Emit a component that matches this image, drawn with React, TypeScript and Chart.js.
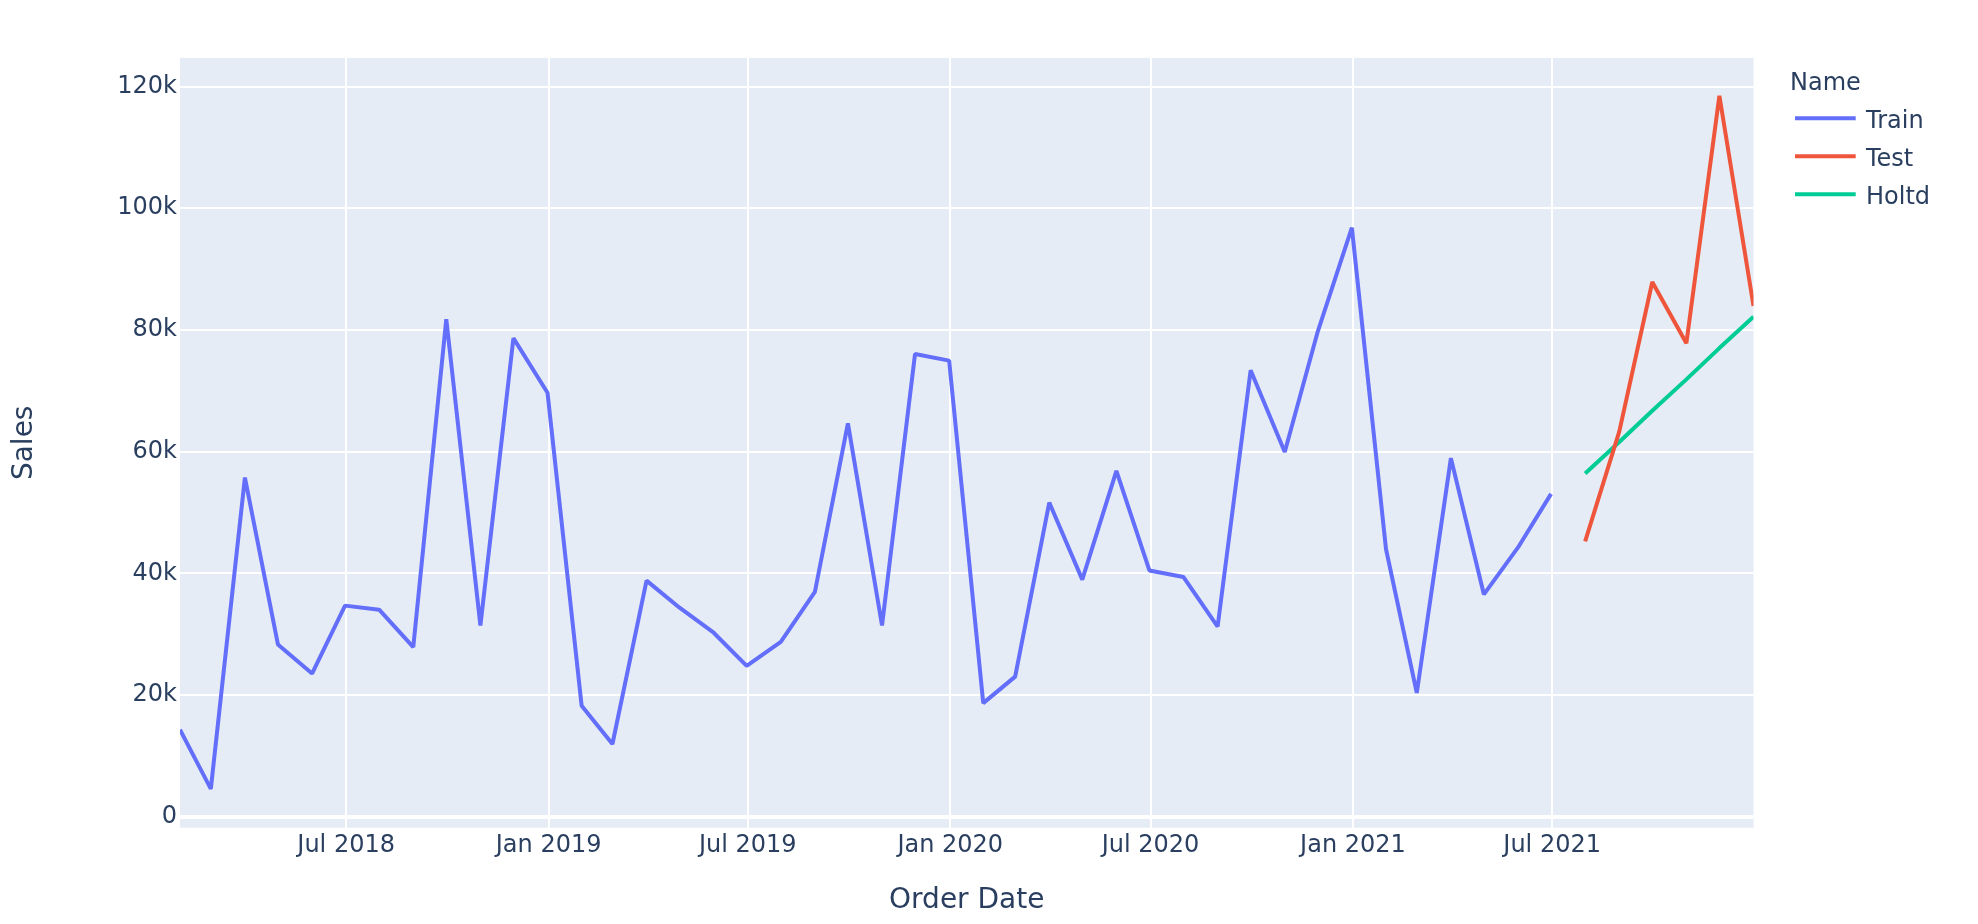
import React, { useEffect, useRef } from "react";
import { Chart, registerables } from "chart.js";

Chart.register(...registerables);

// ---------- data ----------
const trainDates = [
  "2018-01-31", "2018-02-28", "2018-03-31", "2018-04-30", "2018-05-31", "2018-06-30",
  "2018-07-31", "2018-08-31", "2018-09-30", "2018-10-31", "2018-11-30", "2018-12-31",
  "2019-01-31", "2019-02-28", "2019-03-31", "2019-04-30", "2019-05-31", "2019-06-30",
  "2019-07-31", "2019-08-31", "2019-09-30", "2019-10-31", "2019-11-30", "2019-12-31",
  "2020-01-31", "2020-02-29", "2020-03-31", "2020-04-30", "2020-05-31", "2020-06-30",
  "2020-07-31", "2020-08-31", "2020-09-30", "2020-10-31", "2020-11-30", "2020-12-31",
  "2021-01-31", "2021-02-28", "2021-03-31", "2021-04-30", "2021-05-31", "2021-06-30",
];
const trainSales = [
  14340, 4610, 55760, 28340, 23560, 34720, 34050, 27920, 81760, 31450, 78660, 69690,
  18280, 11990, 38830, 34380, 30270, 24820, 28760, 36980, 64650, 31450, 76060, 74970,
  18700, 23060, 51660, 38990, 56860, 40500, 39410, 31280, 73380, 59960, 79750, 96800,
  44030, 20380, 58950, 36560, 44280, 53080,
];
const testDates = ["2021-07-31", "2021-08-31", "2021-09-30", "2021-10-31", "2021-11-30", "2021-12-31"];
const testSales = [45280, 63310, 87880, 77820, 118490, 83940];
const holtSales = [56440, 61590, 66740, 71890, 77030, 82180];

const seriesNames = ["Train", "Test", "Holtd"];
const seriesColors = ["#636efa", "#EF553B", "#00cc96"];
const legendTitle = "Name";
const xTitle = "Order Date";
const yTitle = "Sales";

const xTickDates = ["2018-07-01", "2019-01-01", "2019-07-01", "2020-01-01", "2020-07-01", "2021-01-01", "2021-07-01"];
const xTickLabels = ["Jul 2018", "Jan 2019", "Jul 2019", "Jan 2020", "Jul 2020", "Jan 2021", "Jul 2021"];
const yTickValues = [0, 20000, 40000, 60000, 80000, 100000, 120000];
const yTickLabels = ["0", "20k", "40k", "60k", "80k", "100k", "120k"];

const xRange = ["2018-01-31", "2021-12-31"];
const yRange = [-1760, 124700];

// ---------- helpers ----------
const toMs = (s: string) => Date.parse(s + "T00:00:00Z");
const FONT = "'DejaVu Sans', Verdana, sans-serif";
const TEXT = "#2a3f5f";

const W = 1978;
const H = 924;
const PLOT_LEFT = 180;
const PLOT_RIGHT = 1753.5;
const PLOT_TOP = 57.9;
const PLOT_BOTTOM = 827.7;

const bgPlugin = {
  id: "plotBg",
  beforeDraw(chart: any) {
    const { ctx, chartArea } = chart;
    ctx.save();
    ctx.fillStyle = "#E5ECF6";
    ctx.fillRect(chartArea.left, chartArea.top, chartArea.right - chartArea.left, chartArea.bottom - chartArea.top);
    ctx.restore();
  },
};

const legendPlugin = {
  id: "plotlyLegend",
  afterDraw(chart: any) {
    const ctx = chart.ctx;
    ctx.save();
    ctx.font = `24px ${FONT}`;
    ctx.fillStyle = TEXT;
    ctx.textAlign = "left";
    ctx.textBaseline = "alphabetic";
    ctx.fillText(legendTitle, 1790, 90);
    chart.data.datasets.forEach((ds: any, i: number) => {
      const y = 118.3 + i * 38;
      ctx.strokeStyle = ds.borderColor;
      ctx.lineWidth = 4;
      ctx.beginPath();
      ctx.moveTo(1795, y);
      ctx.lineTo(1855.7, y);
      ctx.stroke();
      ctx.fillStyle = TEXT;
      ctx.fillText(ds.label, 1866, y + 9.4);
    });
    ctx.restore();
  },
};

export default function App() {
  const ref = useRef<HTMLCanvasElement>(null);

  useEffect(() => {
    if (!ref.current) return;
    const mk = (dates: string[], vals: number[]) => dates.map((d, i) => ({ x: toMs(d), y: vals[i] }));
    const chart = new Chart(ref.current, {
      type: "line",
      data: {
        datasets: [
          { label: seriesNames[0], data: mk(trainDates, trainSales), borderColor: seriesColors[0], backgroundColor: seriesColors[0] },
          { label: seriesNames[1], data: mk(testDates, testSales), borderColor: seriesColors[1], backgroundColor: seriesColors[1] },
          { label: seriesNames[2], data: mk(testDates, holtSales), borderColor: seriesColors[2], backgroundColor: seriesColors[2] },
        ].map((d) => ({
          ...d,
          borderWidth: 4,
          borderJoinStyle: "bevel",
          pointRadius: 0,
          pointHoverRadius: 0,
          tension: 0,
          fill: false,
        })),
      },
      options: {
        responsive: false,
        animation: false,
        devicePixelRatio: 1,
        events: [],
        layout: { padding: { left: 0, top: PLOT_TOP, right: W - PLOT_RIGHT, bottom: 0 } },
        plugins: { legend: { display: false }, tooltip: { enabled: false }, title: { display: false } },
        scales: {
          x: {
            type: "linear",
            min: toMs(xRange[0]),
            max: toMs(xRange[1]),
            afterBuildTicks: (scale: any) => {
              scale.ticks = xTickDates.map((d) => ({ value: toMs(d) }));
            },
            afterFit: (scale: any) => {
              scale.height = H - PLOT_BOTTOM;
            },
            ticks: {
              autoSkip: false,
              maxRotation: 0,
              padding: 4,
              color: TEXT,
              font: { family: FONT, size: 24 },
              callback: (_v: any, i: number) => xTickLabels[i],
            },
            grid: { color: "#ffffff", lineWidth: 2, drawTicks: false },
            border: { display: false },
            title: {
              display: true,
              text: xTitle,
              color: TEXT,
              font: { family: FONT, size: 28 },
              padding: { top: 0, bottom: 6 },
            },
          },
          y: {
            type: "linear",
            min: yRange[0],
            max: yRange[1],
            afterBuildTicks: (scale: any) => {
              scale.ticks = yTickValues.map((v) => ({ value: v }));
            },
            afterFit: (scale: any) => {
              scale.width = PLOT_LEFT;
            },
            ticks: {
              padding: 3,
              color: TEXT,
              font: { family: FONT, size: 24 },
              callback: (_v: any, i: number) => yTickLabels[i],
            },
            grid: {
              color: "#ffffff",
              lineWidth: (c: any) => (c.tick && c.tick.value === 0 ? 4 : 2),
              drawTicks: false,
            },
            border: { display: false },
            title: {
              display: true,
              text: yTitle,
              color: TEXT,
              font: { family: FONT, size: 28 },
              padding: { top: 8, bottom: 0 },
            },
          },
        },
      },
      plugins: [bgPlugin, legendPlugin],
    } as any);
    return () => chart.destroy();
  }, []);

  return (
    <div style={{ position: "fixed", left: 0, top: 0, width: W, height: H, background: "#ffffff" }}>
      <canvas ref={ref} width={W} height={H} style={{ display: "block", width: W, height: H }} />
    </div>
  );
}
